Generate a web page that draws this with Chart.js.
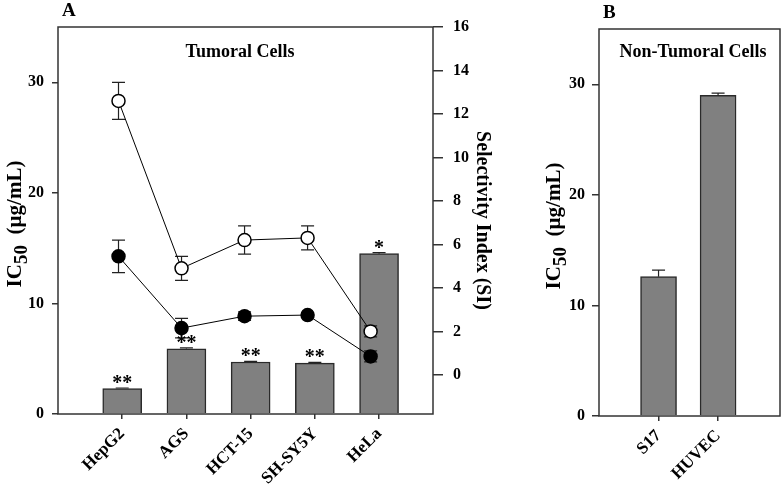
<!DOCTYPE html>
<html>
<head>
<meta charset="utf-8">
<script src="https://cdn.jsdelivr.net/npm/chart.js@4.4.1/dist/chart.umd.min.js"></script>
<style>
  html, body { margin: 0; padding: 0; background: #fff; }
  #wrap { position: relative; width: 781px; height: 489px; }
  #chartA { position: absolute; left: 0; top: 0; }
  #chartB { position: absolute; left: 500px; top: 0; }
</style>
</head>
<body>
<div id="wrap">
  <canvas id="chartA" width="500" height="489"></canvas>
  <canvas id="chartB" width="281" height="489"></canvas>
</div>
<script>
// panel A - tumoral cells
const tumoralCells = ["HepG2", "AGS", "HCT-15", "SH-SY5Y", "HeLa"];
const tumoralIC50 = [2.3, 5.9, 4.7, 4.6, 14.5];
const tumoralIC50Err = [0.05, 0.08, 0.06, 0.06, 0.1];
const tumoralStars = ["**", "**", "**", "**", "*"];
const siOpen = [12.6, 4.9, 6.2, 6.3, 2.0];
const siOpenErr = [0.85, 0.55, 0.65, 0.55, 0.25];
const siFilled = [5.45, 2.15, 2.7, 2.75, 0.85];
const siFilledErr = [0.75, 0.45, 0.2, 0.1, 0.25];

// panel B - non tumoral cells
const normalCells = ["S17", "HUVEC"];
const normalIC50 = [12.6, 29.0];
const normalIC50Err = [0.6, 0.2];

// tick values
const ic50Ticks = [0, 10, 20, 30];
const siTicks = [0, 2, 4, 6, 8, 10, 12, 14, 16];

const serif = "'Liberation Serif', 'Times New Roman', serif";
const tickFont = { family: serif, size: 16, weight: "bold" };
const catFont = { family: serif, size: 17, weight: "bold" };
const axisColor = "#333";

const xy = (vals) => vals.map((v, i) => ({ x: i + 1, y: v }));

function drawIC50Title(ctx, bx, cy, size) {
  const big = `bold ${size}px ${serif}`;
  const small = `bold ${Math.round(size * 0.9)}px ${serif}`;
  ctx.save();
  ctx.translate(bx, cy);
  ctx.rotate(-Math.PI / 2);
  ctx.fillStyle = "#000";
  ctx.textAlign = "left";
  ctx.textBaseline = "alphabetic";
  ctx.font = big;
  const w1 = ctx.measureText("IC").width;
  const w3 = ctx.measureText("  (µg/mL)").width;
  ctx.font = small;
  const w2 = ctx.measureText("50").width;
  let x = -(w1 + w2 + w3) / 2;
  ctx.font = big;
  ctx.fillText("IC", x, 0);
  x += w1;
  ctx.font = small;
  ctx.fillText("50", x, size * 0.3);
  x += w2;
  ctx.font = big;
  ctx.fillText("  (µg/mL)", x, 0);
  ctx.restore();
}

const decorations = {
  id: "decorations",
  afterDatasetDraw(chart, args, opts) {
    if (args.index !== 0) return;
    const ctx = chart.ctx;
    ctx.save();
    ctx.strokeStyle = "#222";
    ctx.lineWidth = 1.2;
    chart.data.datasets.forEach((ds) => {
      if (!ds.errs) return;
      const xs = chart.scales[ds.xAxisID];
      const ys = chart.scales[ds.yAxisID];
      ds.data.forEach((p, i) => {
        const e = ds.errs[i];
        const x = xs.getPixelForValue(p.x);
        const yTop = ys.getPixelForValue(p.y + e);
        const yBot = ys.getPixelForValue(ds.type === "bar" ? p.y : p.y - e);
        ctx.beginPath();
        ctx.moveTo(x, yBot);
        ctx.lineTo(x, yTop);
        ctx.moveTo(x - 6.5, yTop);
        ctx.lineTo(x + 6.5, yTop);
        if (ds.type !== "bar") {
          ctx.moveTo(x - 6.5, yBot);
          ctx.lineTo(x + 6.5, yBot);
        }
        ctx.stroke();
      });
    });
    ctx.restore();
  },
  afterDraw(chart, args, opts) {
    const ctx = chart.ctx;
    const a = chart.chartArea;
    ctx.save();
    // frame
    ctx.strokeStyle = axisColor;
    ctx.lineWidth = 1.5;
    ctx.strokeRect(a.left, a.top, a.right - a.left, a.bottom - a.top);
    // stars over bars
    ctx.fillStyle = "#000";
    ctx.textAlign = "center";
    ctx.textBaseline = "alphabetic";
    ctx.font = `bold 20px ${serif}`;
    chart.data.datasets.forEach((ds) => {
      if (!ds.stars) return;
      const xs = chart.scales[ds.xAxisID];
      const ys = chart.scales[ds.yAxisID];
      ds.data.forEach((p, i) => {
        ctx.fillText(ds.stars[i], xs.getPixelForValue(p.x), ys.getPixelForValue(p.y + ds.errs[i]) + 1);
      });
    });
    // panel letter and panel title
    ctx.textAlign = "left";
    ctx.font = `bold 19px ${serif}`;
    ctx.fillText(opts.letter, opts.letterX, opts.letterY);
    ctx.textAlign = "center";
    ctx.font = `bold 18px ${serif}`;
    ctx.fillText(opts.title, opts.titleX, 57);
    drawIC50Title(ctx, opts.yTitleX, opts.yTitleY, 21);
    ctx.restore();
  }
};

const tickGrid = (len) => ({ drawOnChartArea: false, offset: false, color: axisColor, lineWidth: 1.5, tickLength: len });

new Chart(document.getElementById("chartA"), {
  type: "bar",
  plugins: [decorations],
  data: {
    datasets: [
      {
        type: "bar", data: xy(tumoralIC50), errs: tumoralIC50Err, stars: tumoralStars,
        xAxisID: "x", yAxisID: "y", grouped: false,
        backgroundColor: "#808080", borderColor: "#2a2a2a", borderWidth: 1.5,
        barThickness: 39, maxBarThickness: 39, order: 3
      },
      {
        type: "line", data: xy(siOpen), errs: siOpenErr,
        xAxisID: "x2", yAxisID: "y2",
        borderColor: "#000", borderWidth: 1, pointRadius: 6.5,
        pointBackgroundColor: "#fff", pointBorderColor: "#000", pointBorderWidth: 1.5, order: 1
      },
      {
        type: "line", data: xy(siFilled), errs: siFilledErr,
        xAxisID: "x2", yAxisID: "y2",
        borderColor: "#000", borderWidth: 1, pointRadius: 6.5,
        pointBackgroundColor: "#000", pointBorderColor: "#000", pointBorderWidth: 1.5, order: 2
      }
    ]
  },
  options: {
    responsive: false,
    animation: false,
    devicePixelRatio: 1,
    layout: { padding: { top: 27, left: 0, right: 0, bottom: 0 } },
    plugins: {
      legend: { display: false },
      tooltip: { enabled: false },
      decorations: { letter: "A", letterX: 62, letterY: 16, title: "Tumoral Cells", titleX: 240, yTitleX: 21, yTitleY: 224 }
    },
    scales: {
      x: {
        type: "linear", position: "bottom", min: 0, max: 5.84, offset: false,
        afterBuildTicks: (s) => { s.ticks = tumoralCells.map((c, i) => ({ value: i + 1 })); },
        ticks: {
          callback: (v) => tumoralCells[v - 1], autoSkip: false,
          minRotation: 45, maxRotation: 45, color: "#000", font: catFont, padding: 5
        },
        grid: tickGrid(5),
        border: { display: false },
        afterFit: (s) => { s.height = 75; }
      },
      x2: { type: "linear", axis: "x", min: 0.04, max: 5.99, offset: false, display: false },
      y: {
        position: "left", min: 0, max: 35,
        afterBuildTicks: (s) => { s.ticks = ic50Ticks.map((v) => ({ value: v })); },
        ticks: { color: "#000", font: tickFont, padding: 8 },
        grid: tickGrid(6),
        border: { display: false },
        afterFit: (s) => { s.width = 58; }
      },
      y2: {
        position: "right", min: -1.8, max: 16,
        afterBuildTicks: (s) => { s.ticks = siTicks.map((v) => ({ value: v })); },
        ticks: { color: "#000", font: tickFont, padding: 10 },
        grid: tickGrid(10),
        border: { display: false },
        title: {
          display: true, text: "Selectivity Index (SI)", color: "#000",
          font: { family: serif, size: 20, weight: "bold" }, padding: { top: 6, bottom: 0 }
        },
        afterFit: (s) => { s.width = 67; }
      }
    }
  }
});

new Chart(document.getElementById("chartB"), {
  type: "bar",
  plugins: [decorations],
  data: {
    datasets: [
      {
        type: "bar", data: xy(normalIC50), errs: normalIC50Err,
        xAxisID: "x", yAxisID: "y", grouped: false,
        backgroundColor: "#808080", borderColor: "#2a2a2a", borderWidth: 1.5,
        barThickness: 36, maxBarThickness: 36
      }
    ]
  },
  options: {
    responsive: false,
    animation: false,
    devicePixelRatio: 1,
    layout: { padding: { top: 29, left: 0, right: 1, bottom: 0 } },
    plugins: {
      legend: { display: false },
      tooltip: { enabled: false },
      decorations: { letter: "B", letterX: 103, letterY: 18, title: "Non-Tumoral Cells", titleX: 193, yTitleX: 60, yTitleY: 226 }
    },
    scales: {
      x: {
        type: "linear", position: "bottom", min: 0, max: 3.04, offset: false,
        afterBuildTicks: (s) => { s.ticks = normalCells.map((c, i) => ({ value: i + 1 })); },
        ticks: {
          callback: (v) => normalCells[v - 1], autoSkip: false,
          minRotation: 45, maxRotation: 45, color: "#000", font: catFont, padding: 5
        },
        grid: tickGrid(5),
        border: { display: false },
        afterFit: (s) => { s.height = 73; }
      },
      y: {
        position: "left", min: 0, max: 35,
        afterBuildTicks: (s) => { s.ticks = ic50Ticks.map((v) => ({ value: v })); },
        ticks: { color: "#000", font: tickFont, padding: 7 },
        grid: tickGrid(7),
        border: { display: false },
        afterFit: (s) => { s.width = 99; }
      }
    }
  }
});
</script>
</body>
</html>
